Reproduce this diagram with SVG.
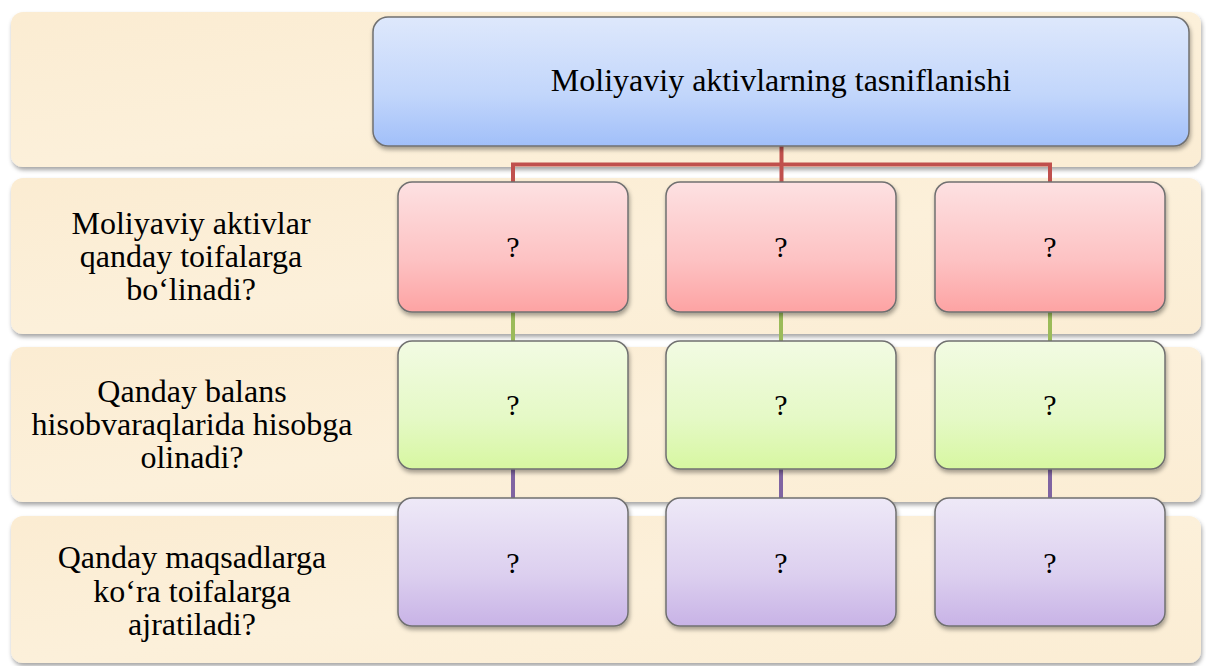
<svg xmlns="http://www.w3.org/2000/svg" width="1206" height="666" viewBox="0 0 1206 666">
  <defs>
    <linearGradient id="gBand" x1="0" y1="0" x2="1" y2="1">
      <stop offset="0" stop-color="#fbecd2"/>
      <stop offset="0.5" stop-color="#fcf0da"/>
      <stop offset="1" stop-color="#fbedd4"/>
    </linearGradient>
    <linearGradient id="gBlue" x1="0" y1="0" x2="0" y2="1">
      <stop offset="0" stop-color="#dee8fc"/>
      <stop offset="0.6" stop-color="#c2d6fb"/>
      <stop offset="1" stop-color="#a1bff9"/>
    </linearGradient>
    <linearGradient id="gRed" x1="0" y1="0" x2="0" y2="1">
      <stop offset="0" stop-color="#fde1e2"/>
      <stop offset="0.6" stop-color="#fdc2c3"/>
      <stop offset="1" stop-color="#fda3a3"/>
    </linearGradient>
    <linearGradient id="gGreen" x1="0" y1="0" x2="0" y2="1">
      <stop offset="0" stop-color="#f2fbe3"/>
      <stop offset="0.6" stop-color="#e5f9c6"/>
      <stop offset="1" stop-color="#d7f7a1"/>
    </linearGradient>
    <linearGradient id="gPurple" x1="0" y1="0" x2="0" y2="1">
      <stop offset="0" stop-color="#eee9f7"/>
      <stop offset="0.6" stop-color="#dccfef"/>
      <stop offset="1" stop-color="#c8b3e6"/>
    </linearGradient>
    <filter id="shadow" x="-5%" y="-10%" width="110%" height="130%">
      <feDropShadow dx="1" dy="3" stdDeviation="2" flood-color="#000" flood-opacity="0.35"/>
    </filter>
  </defs>
  <style>
    .band { fill: url(#gBand); filter: url(#shadow); }
    .box { stroke: #707070; stroke-width: 1.5; filter: url(#shadow); }
    .blue { fill: url(#gBlue); }
    .red { fill: url(#gRed); }
    .green { fill: url(#gGreen); }
    .purple { fill: url(#gPurple); }
    .t { font-family: "Liberation Serif", "DejaVu Serif", serif; font-size: 32px; fill: #000; text-anchor: middle; }
    .q { font-family: "Liberation Serif", "DejaVu Serif", serif; font-size: 30px; fill: #000; text-anchor: middle; }
    .cr { stroke: #c0504d; stroke-width: 4; fill: none; }
    .cg { stroke: #9bbb59; stroke-width: 4; fill: none; }
    .cp { stroke: #8064a2; stroke-width: 4; fill: none; }
  </style>
  <rect width="1206" height="666" fill="#ffffff"/>

  <g id="bands">
    <g id="band1"><rect class="band" x="11" y="12" width="1190" height="155" rx="12"/></g>
    <g id="band2">
      <rect class="band" x="11" y="178" width="1190" height="156" rx="12"/>
      <text class="t" x="191" y="234">Moliyaviy aktivlar</text>
      <text class="t" x="191" y="267">qanday toifalarga</text>
      <text class="t" x="191" y="300">bo‘linadi?</text>
    </g>
    <g id="band3">
      <rect class="band" x="11" y="347" width="1190" height="155" rx="12"/>
      <text class="t" x="192" y="402">Qanday balans</text>
      <text class="t" x="192" y="435">hisobvaraqlarida hisobga</text>
      <text class="t" x="192" y="468">olinadi?</text>
    </g>
    <g id="band4">
      <rect class="band" x="11" y="516" width="1190" height="147" rx="12"/>
      <text class="t" x="192" y="568">Qanday maqsadlarga</text>
      <text class="t" x="192" y="602">ko‘ra toifalarga</text>
      <text class="t" x="192" y="635">ajratiladi?</text>
    </g>
  </g>

  <g id="connectors">
    <path class="cr" d="M781.5 146 V183 M513 183 V164.5 H1050 V183"/>
    <path class="cg" d="M513 312 V341 M781 312 V341 M1050 312 V341"/>
    <path class="cp" d="M513 469 V498 M781 469 V498 M1050 469 V498"/>
  </g>

  <g id="root">
    <rect class="box blue" x="373" y="17" width="816" height="129" rx="15"/>
    <text class="t" x="781" y="91">Moliyaviy aktivlarning tasniflanishi</text>
  </g>

  <g id="r1"><rect class="box red" x="398" y="182" width="230" height="130" rx="14"/><text class="q" x="513" y="257">?</text></g>
  <g id="r2"><rect class="box red" x="666" y="182" width="230" height="130" rx="14"/><text class="q" x="781" y="257">?</text></g>
  <g id="r3"><rect class="box red" x="935" y="182" width="230" height="130" rx="14"/><text class="q" x="1050" y="257">?</text></g>

  <g id="g1"><rect class="box green" x="398" y="341" width="230" height="128" rx="14"/><text class="q" x="513" y="415">?</text></g>
  <g id="g2"><rect class="box green" x="666" y="341" width="230" height="128" rx="14"/><text class="q" x="781" y="415">?</text></g>
  <g id="g3"><rect class="box green" x="935" y="341" width="230" height="128" rx="14"/><text class="q" x="1050" y="415">?</text></g>

  <g id="p1"><rect class="box purple" x="398" y="498" width="230" height="128" rx="14"/><text class="q" x="513" y="573">?</text></g>
  <g id="p2"><rect class="box purple" x="666" y="498" width="230" height="128" rx="14"/><text class="q" x="781" y="573">?</text></g>
  <g id="p3"><rect class="box purple" x="935" y="498" width="230" height="128" rx="14"/><text class="q" x="1050" y="573">?</text></g>
</svg>
